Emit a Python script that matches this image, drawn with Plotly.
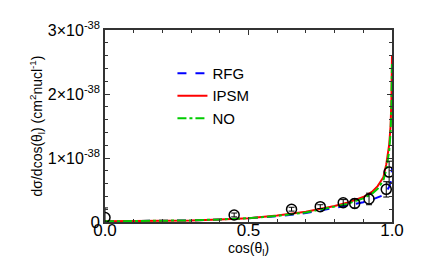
import plotly.graph_objects as go

# curve grid (cos theta_l)
cos_grid = [0.0, 0.1, 0.2, 0.3, 0.4, 0.5, 0.6, 0.7, 0.8, 0.85, 0.9, 0.93, 0.95, 0.97, 0.98, 0.99, 0.995, 0.998, 1.0]
# cross sections in units of 1e-38 cm^2/nucleon
rfg = [0.01, 0.012, 0.017, 0.025, 0.04, 0.058, 0.09, 0.14, 0.22, 0.26, 0.31, 0.35, 0.38, 0.42, 0.47, 0.55, 0.62, 0.70, 0.85]
ipsm = [0.01, 0.012, 0.017, 0.025, 0.04, 0.06, 0.10, 0.16, 0.25, 0.31, 0.39, 0.47, 0.56, 0.70, 0.90, 1.2, 1.5, 1.9, 2.6]
no_ = [0.01, 0.012, 0.017, 0.025, 0.04, 0.06, 0.095, 0.15, 0.24, 0.29, 0.37, 0.44, 0.52, 0.65, 0.82, 1.1, 1.4, 1.8, 2.5]

# data points
data_x = [0.0, 0.45, 0.65, 0.75, 0.83, 0.87, 0.92, 0.98, 0.99]
data_y = [0.07, 0.11, 0.20, 0.24, 0.30, 0.29, 0.36, 0.51, 0.78]
data_err = [0.15, 0.03, 0.03, 0.03, 0.05, 0.07, 0.09, 0.12, 0.17]

y_tickvals = [0, 1, 2, 3]
y_ticktext = ['<span style="font-size:17px">0</span>', "1×10<sup>-38</sup>", "2×10<sup>-38</sup>", "3×10<sup>-38</sup>"]
x_tickvals = [0.0, 0.5, 1.0]
x_ticktext = ["0.0", "0.5", "1.0"]

FONT = "Liberation Sans, Arial, sans-serif"

fig = go.Figure()
fig.add_trace(go.Scatter(x=cos_grid, y=rfg, mode="lines", name="RFG",
                         line=dict(color="#0000ff", width=2, dash="dash")))
fig.add_trace(go.Scatter(x=cos_grid, y=ipsm, mode="lines", name="IPSM",
                         line=dict(color="#ff0000", width=2, dash="solid")))
fig.add_trace(go.Scatter(x=cos_grid, y=no_, mode="lines", name="NO",
                         line=dict(color="#00cc00", width=2, dash="dashdot")))
fig.add_trace(go.Scatter(x=data_x, y=data_y, mode="markers", showlegend=False,
                         marker=dict(symbol="circle-open", size=10, color="black", line=dict(width=1.5)),
                         error_y=dict(type="data", array=data_err, color="black", thickness=1, width=3)))

fig.update_layout(
    width=432, height=264,
    margin=dict(l=97, r=48, t=22, b=50),
    paper_bgcolor="white", plot_bgcolor="white",
    font=dict(family=FONT, color="black"),
    legend=dict(x=0.235, y=0.86, xanchor="left", yanchor="top", bgcolor="rgba(0,0,0,0)",
                font=dict(size=15, family=FONT), itemwidth=30, tracegroupgap=0),
    showlegend=True,
)
fig.update_xaxes(
    range=[0, 1], tickvals=x_tickvals, ticktext=x_ticktext, automargin=False,
    ticks="inside", ticklen=5, tickwidth=1, tickcolor="#333",
    minor=dict(dtick=0.1, ticks="inside", ticklen=3, tickcolor="#333"),
    showline=True, linecolor="#333", linewidth=1.5, mirror="ticks",
    showgrid=False, zeroline=False,
    tickfont=dict(size=17, family=FONT), ticklabelstandoff=-8,
    title=dict(text="cos(θ<sub>l</sub>)", font=dict(size=14, family=FONT), standoff=0),
)
fig.update_yaxes(
    range=[0, 3], tickvals=y_tickvals, ticktext=y_ticktext, automargin=False,
    ticks="inside", ticklen=5, tickwidth=1, tickcolor="#333",
    minor=dict(dtick=0.2, ticks="inside", ticklen=3, tickcolor="#333"),
    showline=True, linecolor="#333", linewidth=1.5, mirror="ticks",
    showgrid=False, zeroline=False,
    tickfont=dict(size=16, family=FONT),
    title=dict(text="dσ/dcos(θ<sub>l</sub>) (cm<sup>2</sup>nucl<sup>-1</sup>)", font=dict(size=14, family=FONT), standoff=2),
)
fig.write_html("out.html")
